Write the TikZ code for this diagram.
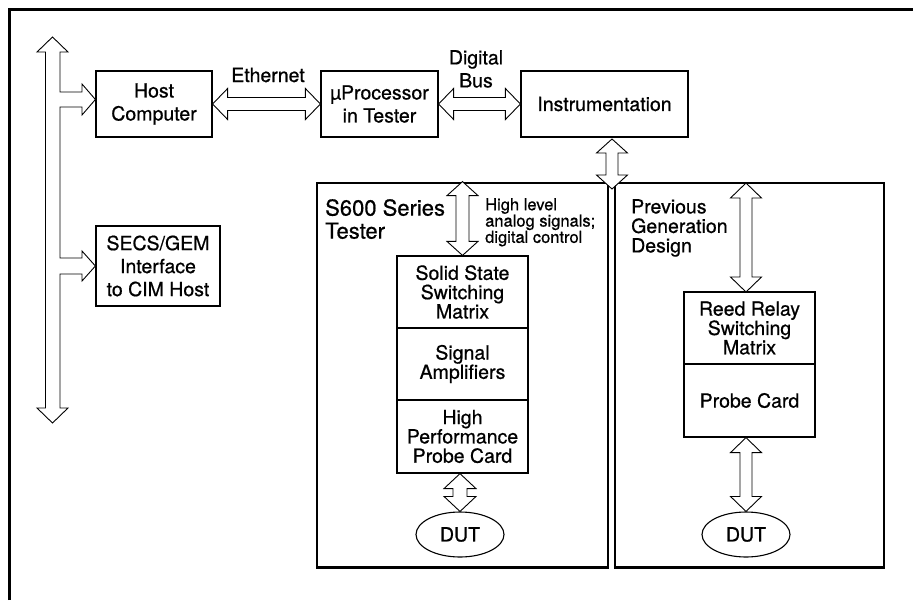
\documentclass[tikz,border=0pt]{standalone}
\usepackage{fontspec}
\setmainfont{TeX Gyre Heros}[FakeBold=0.7]
\usetikzlibrary{calc,shapes.geometric}
\newcommand{\vhollow}[5]{% top, bottom, half shaft, half head, head length
  \draw[hollow] (#1) -- ++(#4,#5) -- ++(-#4+#3,0) -- ($(#2)+(#3,-#5)$) -- ++(#4-#3,0) -- (#2)
    -- ++(-#4,-#5) -- ++(#4-#3,0) -- ($(#1)+(-#3,#5)$) -- ++(-#4+#3,0) -- cycle;}
\newcommand{\hhollow}[5]{% left, right, half shaft, half head, head length
  \draw[hollow] (#1) -- ++(#5,-#4) -- ++(0,#4-#3) -- ($(#2)+(-#5,-#3)$) -- ++(0,-#4+#3) -- (#2)
    -- ++(-#5,#4) -- ++(0,-#4+#3) -- ($(#1)+(#5,#3)$) -- ++(0,#4-#3) -- cycle;}
\begin{document}
\begin{tikzpicture}[x=1pt,y=-1pt,
  mainfont/.style={font=\fontsize{19.5}{23}\selectfont},
  box/.style={draw, line width=1.2pt, inner sep=0pt, align=center, mainfont},
  stack/.style={box, minimum width=131, font=\fontsize{19.5}{19.3}\selectfont},
  bigbox/.style={draw, line width=2.8pt, inner sep=0pt},
  dut/.style={draw, ellipse, line width=1.1pt, inner sep=0pt, minimum width=88, minimum height=45, mainfont},
  hollow/.style={draw, fill=white, line width=0.9pt, line join=miter},
  lbl/.style={inner sep=0pt, align=left}]
\useasboundingbox (0,0) rectangle (913,600);
% outer frame (top and left only)
\draw[line width=3pt] (9.5,600) -- (9.5,9.8) -- (913,9.8);

% top row
\node[box, minimum width=116, minimum height=66] (host) at (154,104) {Host\\Computer};
\node[box, minimum width=117, minimum height=66] (uproc) at (379.5,104) {µProcessor\\in Tester};
\node[box, minimum width=167, minimum height=66] (instr) at (604.5,104) {Instrumentation};
\node[box, minimum width=124, minimum height=80] (secs) at (158,266) {SECS/GEM\\Interface\\to CIM Host};

% big boxes
\node[bigbox, minimum width=291, minimum height=384.5] (s600) at (462.5,375.25) {};
\node[bigbox, minimum width=269, minimum height=384.5] (prev) at (749.5,375.25) {};

% stacks
\node[stack, minimum height=72] (solid) at (462.5,292) {Solid State\\Switching\\Matrix};
\node[stack, minimum height=72] (amp) at (462.5,364) {Signal\\Amplifiers};
\node[stack, minimum height=73] (hp) at (462.5,436.5) {High\\Performance\\Probe Card};
\node[stack, minimum height=72] (reed) at (749.5,328) {Reed Relay\\Switching\\Matrix};
\node[stack, minimum height=73] (probe) at (749.5,400.5) {Probe Card};

\node[dut] (dut1) at (460,534.5) {DUT};
\node[dut] (dut2) at (746,534.5) {DUT};

% labels
\node[lbl, anchor=north west, font=\fontsize{22}{23}\selectfont] (s600lbl) at (325,199) {S600 Series\\Tester};
\node[lbl, anchor=north west, font=\fontsize{19.5}{19.5}\selectfont] (prevlbl) at (631,199) {Previous\\Generation\\Design};
\node[lbl, anchor=north west, font=\fontsize{16.5}{16.3}\selectfont] (hllbl) at (485,198) {High level\\analog signals;\\digital control};
\node[inner sep=0pt, anchor=base, mainfont] (eth) at (268,82) {Ethernet};
\node[inner sep=0pt, anchor=north, align=center, mainfont] (dbus) at (476,50) {Digital\\Bus};

% horizontal connectors
\hhollow{host.east}{uproc.west}{6.5}{15.5}{15}
\hhollow{uproc.east}{instr.west}{6.5}{15.5}{15}

% vertical connectors
\coordinate (ia) at (612,139);
\coordinate (ib) at (612,189);
\vhollow{ia}{ib}{6}{15.5}{14}
\coordinate (sa) at ($(solid.north |- s600.north)$);
\vhollow{sa}{solid.north}{6.5}{15.5}{14}
\coordinate (pa) at (746,183);
\coordinate (pb) at (746,292);
\vhollow{pa}{pb}{6}{15.5}{15}
\coordinate (da) at ($(dut1.north |- hp.south)$);
\vhollow{da}{dut1.north}{7}{16}{15}
\coordinate (db) at ($(dut2.north |- probe.south)$);
\vhollow{db}{dut2.north}{6}{15.5}{15}

% system bus with branches
\coordinate (ht) at ($(host.west)+(0,-4.5)$);
\coordinate (st) at (secs.west);
\draw[hollow] (52.5,37) -- (68,52) -- (60,52) -- (60,92) -- (82,92) -- (82,84) -- (ht)
  -- (82,115) -- (82,107) -- (60,107) -- (60,258) -- (82,258) -- (82,251) -- (st)
  -- (82,281) -- (82,274) -- (60,274) -- (60,408) -- (68,408) -- (52.5,423) -- (37,408)
  -- (45.5,408) -- (45.5,52) -- (37,52) -- cycle;
\end{tikzpicture}
\end{document}
